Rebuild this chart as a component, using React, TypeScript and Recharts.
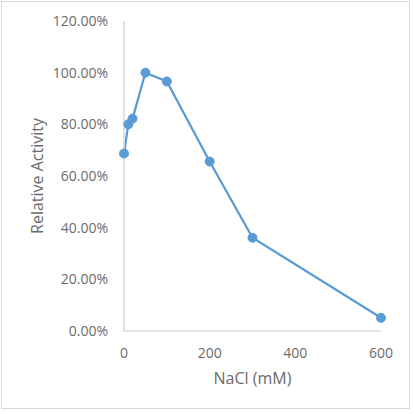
import React from 'react';
import { LineChart, Line, XAxis, YAxis } from 'recharts';

const nacl = [0, 10, 20, 50, 100, 200, 300, 600];
const activity = [0.687, 0.80, 0.822, 1.0, 0.966, 0.656, 0.361, 0.051];
const xTicks = [0, 200, 400, 600];
const yTicks = [0, 0.2, 0.4, 0.6, 0.8, 1.0, 1.2];

const data = nacl.map((x, i) => ({ x, y: activity[i] }));

const FONT = '"Open Sans", "Liberation Sans", sans-serif';
const TXT = '#6b6b6b';
const BLUE = '#5B9BD5';

export default function App() {
  return (
    <div style={{ position: 'absolute', left: 0, top: 0, width: 414, height: 414, background: '#fff' }}>
      <div style={{ position: 'absolute', left: 1, top: 1, width: 409, height: 408, border: '1px solid #d9d9d9', boxSizing: 'border-box' }} />
      <LineChart width={414} height={414} data={data} margin={{ top: 21, right: 33, left: 0, bottom: 0 }}>
        <XAxis
          dataKey="x"
          type="number"
          domain={[0, 600]}
          ticks={xTicks}
          tickLine={false}
          tickMargin={11}
          axisLine={{ stroke: '#d9d9d9', strokeWidth: 1.5 }}
          height={83}
          tick={{ fill: TXT, fontSize: 14, fontFamily: FONT }}
          label={{ value: 'NaCl (mM)', position: 'insideBottom', offset: 30, style: { fill: TXT, fontSize: 16, fontFamily: FONT } }}
        />
        <YAxis
          type="number"
          domain={[0, 1.2]}
          ticks={yTicks}
          tickLine={false}
          tickMargin={10}
          width={124}
          axisLine={{ stroke: '#d9d9d9', strokeWidth: 1.5 }}
          tickFormatter={(v: number) => `${(v * 100).toFixed(2)}%`}
          tick={{ fill: TXT, fontSize: 14, fontFamily: FONT }}
          label={{ value: 'Relative Activity', angle: -90, position: 'insideLeft', offset: 37, style: { fill: TXT, fontSize: 16, fontFamily: FONT, textAnchor: 'middle' } }}
        />
        <Line
          dataKey="y"
          stroke={BLUE}
          strokeWidth={2.25}
          dot={{ r: 4.5, fill: BLUE, stroke: BLUE, strokeWidth: 1 }}
          isAnimationActive={false}
        />
      </LineChart>
    </div>
  );
}
